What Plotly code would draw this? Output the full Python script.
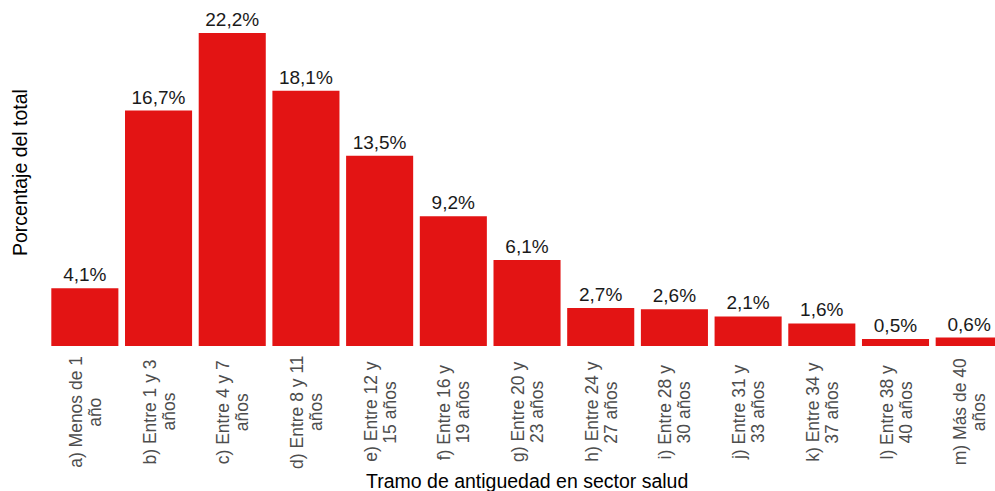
import plotly.graph_objects as go

categories = [
    "a) Menos de 1 año", "b) Entre 1 y 3 años", "c) Entre 4 y 7 años",
    "d) Entre 8 y 11 años", "e) Entre 12 y 15 años", "f) Entre 16 y 19 años",
    "g) Entre 20 y 23 años", "h) Entre 24 y 27 años", "i) Entre 28 y 30 años",
    "j) Entre 31 y 33 años", "k) Entre 34 y 37 años", "l) Entre 38 y 40 años",
    "m) Más de 40 años",
]
label_line1 = [
    "a) Menos de 1", "b) Entre 1 y 3", "c) Entre 4 y 7", "d) Entre 8 y 11",
    "e) Entre 12 y", "f) Entre 16 y", "g) Entre 20 y", "h) Entre 24 y",
    "i) Entre 28 y", "j) Entre 31 y", "k) Entre 34 y", "l) Entre 38 y",
    "m) Más de 40",
]
label_line2 = [
    "año", "años", "años", "años", "15 años", "19 años", "23 años",
    "27 años", "30 años", "33 años", "37 años", "40 años", "años",
]
values = [4.1, 16.7, 22.2, 18.1, 13.5, 9.2, 6.1, 2.7, 2.6, 2.1, 1.6, 0.5, 0.6]

x_title = "Tramo de antiguedad en sector salud"
y_title = "Porcentaje del total"

FONT = "Liberation Sans, Arial, sans-serif"
BAR_COLOR = "#E31414"

texts = [f"{v:.1f}%".replace(".", ",") for v in values]

fig = go.Figure()
fig.add_trace(go.Bar(
    x=categories,
    y=values,
    marker=dict(color=BAR_COLOR, line=dict(width=0)),
    text=texts,
    textposition="outside",
    textfont=dict(family=FONT, size=19, color="#1a1a1a"),
    cliponaxis=False,
    hoverinfo="skip",
))

annotations = []
for cat, l1, l2 in zip(categories, label_line1, label_line2):
    for txt, dx in ((l1, -9), (l2, 10)):
        annotations.append(dict(
            x=cat, xref="x", y=0, yref="paper",
            text=txt, textangle=-90, showarrow=False,
            xanchor="center", yanchor="middle",
            xshift=dx, yshift=-66,
            font=dict(family=FONT, size=17.5, color="#4D4D4D"),
        ))

annotations.append(dict(
    x=categories[6], xref="x", y=0, yref="paper",
    text=x_title, showarrow=False, xanchor="center", yanchor="middle",
    yshift=-135, font=dict(family=FONT, size=19.5, color="#000000"),
))
annotations.append(dict(
    x=0, xref="paper", y=0.5, yref="paper",
    text=y_title, textangle=-90, showarrow=False,
    xanchor="center", yanchor="middle", xshift=-28,
    font=dict(family=FONT, size=19.5, color="#000000"),
))

fig.update_layout(
    width=995, height=491,
    margin=dict(l=48, r=0, t=0, b=145),
    paper_bgcolor="white", plot_bgcolor="white",
    bargap=0.09,
    showlegend=False,
    xaxis=dict(range=[-0.5, 12.35], showticklabels=False, showgrid=False,
               zeroline=False, showline=False, ticks=""),
    yaxis=dict(range=[0, 24.54], showticklabels=False, showgrid=False,
               zeroline=False, showline=False, ticks=""),
    annotations=annotations,
    font=dict(family=FONT),
)

fig.write_html(
    "out.html",
    config={"displayModeBar": False},
    post_script="document.body.style.margin='0';document.body.style.overflow='hidden';",
)
